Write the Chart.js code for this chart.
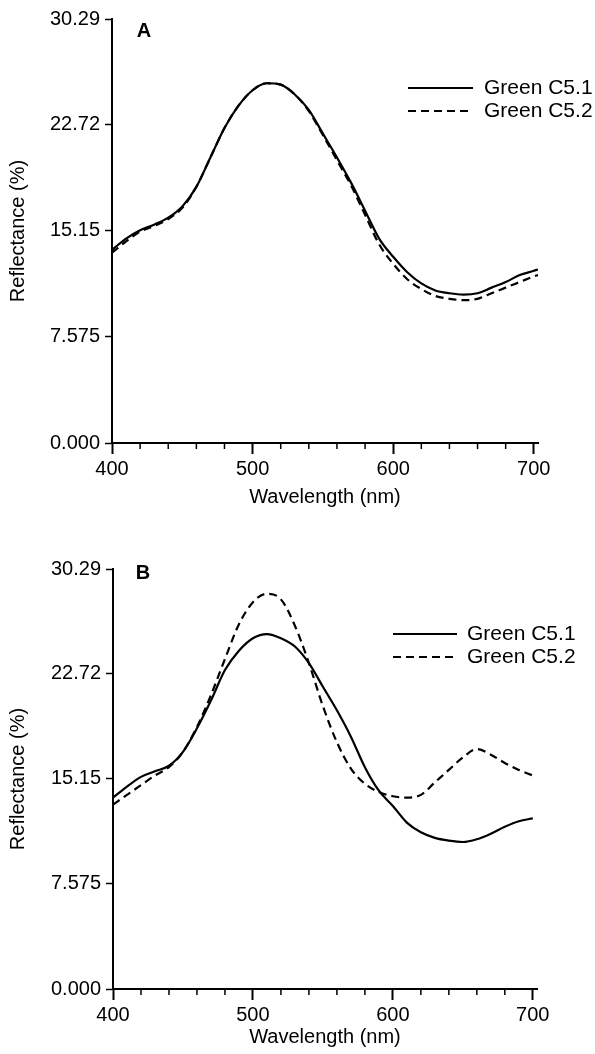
<!DOCTYPE html>
<html><head><meta charset="utf-8">
<script src="https://cdn.jsdelivr.net/npm/chart.js@4.4.0/dist/chart.umd.min.js"></script>
<style>html,body{margin:0;padding:0;background:#fff;} canvas{display:block;}</style>
</head><body>
<canvas id="cA" width="595" height="527"></canvas>
<canvas id="cB" width="595" height="527"></canvas>
<script>
// ---- data ----
const seriesNames = ['Green C5.1', 'Green C5.2'];
const wavelengthsA = [400,410,420,430,440,450,460,470,480,490,500,510,520,530,540,550,560,570,580,590,600,610,620,630,640,650,660,670,680,690,700,703];
const panelA_C51 = [13.8,14.6,15.2,15.6,16.1,16.9,18.3,20.4,22.5,24.1,25.2,25.7,25.6,24.9,23.8,22.1,20.4,18.6,16.6,14.6,13.3,12.2,11.4,10.9,10.7,10.6,10.7,11.1,11.5,12.0,12.3,12.4];
const panelA_C52 = [13.6,14.4,15.1,15.5,16.0,16.8,18.3,20.4,22.5,24.1,25.2,25.7,25.6,24.9,23.7,22.0,20.2,18.4,16.3,14.2,12.8,11.7,11.0,10.5,10.3,10.2,10.3,10.7,11.1,11.5,11.9,12.0];
const wavelengthsB = [400,410,420,430,440,450,460,470,480,490,500,510,520,530,540,550,560,570,580,590,600,610,620,630,640,650,660,670,680,690,700];
const panelB_C51 = [13.8,14.6,15.3,15.7,16.1,17.1,18.8,20.8,23.0,24.4,25.3,25.6,25.3,24.7,23.5,21.8,20.1,18.2,16.0,14.3,13.2,12.0,11.3,10.9,10.7,10.6,10.8,11.2,11.7,12.1,12.3];
const panelB_C52 = [13.3,14.0,14.7,15.4,16.0,17.1,18.9,21.2,23.8,26.3,27.9,28.5,28.1,26.2,23.5,20.4,17.8,15.9,14.8,14.2,13.9,13.8,14.0,14.9,15.8,16.7,17.3,16.9,16.3,15.8,15.4];
const yTickValues = [0, 7.575, 15.15, 22.72, 30.29];
const yTickLabels = ['0.000', '7.575', '15.15', '22.72', '30.29'];
const xTickValues = [400,420,440,460,480,500,520,540,560,580,600,620,640,660,680,700];
const xMajorLabels = ['400', '500', '600', '700'];

const FONT = "'Liberation Sans', Arial, Helvetica, sans-serif";
Chart.defaults.font.family = FONT;
Chart.defaults.font.size = 20;
Chart.defaults.color = '#000';

function makeDatasets(xs, s1, s2) {
  return [s1, s2].map((arr, i) => ({
    label: seriesNames[i],
    data: arr.map((v, j) => ({x: xs[j], y: v})),
    borderColor: '#000', borderWidth: 2.2, borderDash: i ? [8, 5] : [],
    pointRadius: 0, fill: false, cubicInterpolationMode: 'monotone'
  }));
}

const figPlugin = {
  id: 'fig',
  afterDraw(chart, args, o) {
    const ctx = chart.ctx, ca = chart.chartArea, xs = chart.scales.x;
    ctx.save();
    ctx.strokeStyle = '#000';
    ctx.fillStyle = '#000';
    // minor ticks
    ctx.lineWidth = 1.5;
    xs.ticks.forEach(t => {
      if (t.value % 100 !== 0) {
        const px = xs.getPixelForValue(t.value);
        ctx.beginPath(); ctx.moveTo(px, xs.top); ctx.lineTo(px, xs.top + o.minorLen); ctx.stroke();
      }
    });
    // panel letter
    ctx.font = 'bold 20px ' + FONT;
    ctx.textAlign = 'center'; ctx.textBaseline = 'middle';
    ctx.fillText(o.letter, ca.left + o.letterDx, ca.top + o.letterDy);
    // legend
    ctx.font = '21px ' + FONT;
    ctx.textAlign = 'left';
    chart.data.datasets.forEach((ds, i) => {
      const y = ca.top + o.legDy + i * o.legGap;
      const x0 = ca.left + o.legDx;
      ctx.lineWidth = 2.2;
      ctx.setLineDash(ds.borderDash);
      ctx.beginPath(); ctx.moveTo(x0, y); ctx.lineTo(x0 + o.legLen, y); ctx.stroke();
      ctx.setLineDash([]);
      ctx.fillText(ds.label, x0 + o.legLen + o.legTextGap, y);
    });
    ctx.restore();
  }
};

function makeChart(id, xs, s1, s2, cfg) {
  return new Chart(document.getElementById(id), {
    type: 'line',
    data: {datasets: makeDatasets(xs, s1, s2)},
    options: {
      responsive: false, animation: false, devicePixelRatio: 1,
      layout: {padding: {left: 0, top: cfg.top, right: cfg.right, bottom: 0}},
      plugins: {
        legend: {display: false}, tooltip: {enabled: false},
        fig: cfg.fig
      },
      scales: {
        x: {
          type: 'linear', min: 400, max: 703,
          afterBuildTicks: s => { s.ticks = xTickValues.map(v => ({value: v})); },
          afterFit: s => { s.height = cfg.xHeight; },
          ticks: {autoSkip: false, maxRotation: 0, padding: 3,
            callback: v => (v % 100 === 0 ? xMajorLabels[(v - 400) / 100] : '')},
          grid: {drawOnChartArea: false, drawTicks: true, tickLength: 11, tickWidth: 2,
            tickColor: c => (c.tick && c.tick.value % 100 === 0) ? '#000' : 'rgba(0,0,0,0)'},
          border: {display: true, color: '#000', width: 2},
          title: {display: true, text: 'Wavelength (nm)', padding: {top: 0, bottom: cfg.xTitlePad}}
        },
        y: {
          type: 'linear', min: 0, max: 30.29,
          afterBuildTicks: s => { s.ticks = yTickValues.map(v => ({value: v})); },
          afterFit: s => { s.width = cfg.yWidth; },
          ticks: {autoSkip: false, padding: 5, callback: (v, i) => yTickLabels[i]},
          grid: {drawOnChartArea: false, drawTicks: true, tickLength: 7, tickWidth: 1.5, tickColor: '#000'},
          border: {display: true, color: '#000', width: 2},
          title: {display: true, text: 'Reflectance (%)', padding: {top: 6, bottom: 0}}
        }
      }
    },
    plugins: [figPlugin]
  });
}

makeChart('cA', wavelengthsA, panelA_C51, panelA_C52, {
  top: 19, right: 57, xHeight: 84, xTitlePad: 18, yWidth: 112,
  fig: {minorLen: 6, letter: 'A', letterDx: 32, letterDy: 12, legDx: 296, legDy: 69, legGap: 23, legLen: 65, legTextGap: 11}
});
makeChart('cB', wavelengthsB, panelB_C51, panelB_C52, {
  top: 42, right: 58, xHeight: 65, xTitlePad: 5, yWidth: 113,
  fig: {minorLen: 6, letter: 'B', letterDx: 30, letterDy: 4, legDx: 280, legDy: 65, legGap: 23, legLen: 64, legTextGap: 10}
});
</script>
</body></html>
